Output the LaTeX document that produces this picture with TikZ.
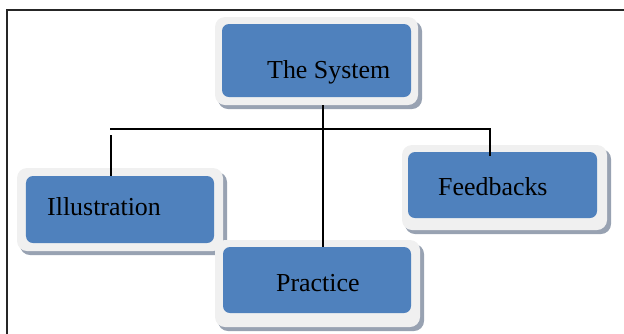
\documentclass[tikz,border=0pt]{standalone}
\usepackage{fontspec}
\setmainfont{Liberation Serif}
\definecolor{boxblue}{HTML}{4F81BD}
\definecolor{rimgray}{HTML}{F0F0F0}
\definecolor{shadowgray}{HTML}{98A2B2}
\tikzset{
  inner/.style={fill=boxblue, rounded corners=7bp, minimum width=189bp, minimum height=67bp, inner sep=0pt, draw=none},
  rim/.style={fill=rimgray, rounded corners=10bp},
  shade/.style={fill=shadowgray, rounded corners=10bp},
  lbl/.style={anchor=base west, inner sep=0pt, font=\fontsize{26}{30}\selectfont},
  conn/.style={line width=1.6bp, black},
}
\begin{document}
\begin{tikzpicture}[x=1bp, y=-1bp]
\useasboundingbox (0,0) rectangle (624,333);
\clip (0,0) rectangle (624,333);
% frame
\draw[line width=2bp, black!85] (7,345) -- (7,10) -- (640,10);
% The System
\fill[shade] (218,21) rectangle (422,109);
\fill[rim] (215,17) rectangle (418,105);
\node[inner, minimum width=189bp, minimum height=73bp] (sys) at (316.5,60.5) {};
\node[lbl] (syst) at (267,78) {The System};
% Illustration
\fill[shade] (20,172) rectangle (227,255);
\fill[rim] (17,168) rectangle (223,251);
\node[inner, minimum width=188bp, minimum height=67bp] (ill) at (120,209.5) {};
\node[lbl] (illt) at (47,215) {Illustration};
% Practice
\fill[shade] (218,244) rectangle (424,331);
\fill[rim] (215,240) rectangle (420,327);
\node[inner, minimum width=188bp, minimum height=66bp] (pra) at (317,280) {};
\node[lbl] (prat) at (276,291) {Practice};
% Feedbacks
\fill[shade] (405,149) rectangle (611,234);
\fill[rim] (402,145) rectangle (607,230);
\node[inner, minimum width=189bp, minimum height=66bp] (fee) at (502.5,185) {};
\node[lbl] (feet) at (438,195) {Feedbacks};
% connectors
\coordinate (trunktop) at (323,105);
\coordinate (hl) at (110,129);
\coordinate (hr) at (491,129);
\coordinate (lstart) at (111,135);
\coordinate (rstart) at (490,129);
\draw[conn] (trunktop) -- (pra.north -| trunktop);
\draw[conn] (hl) -- (hr);
\draw[conn] (lstart) -- (ill.north -| lstart);
\draw[conn] (rstart) -- ([yshift=-4bp]fee.north -| rstart);
\end{tikzpicture}
\end{document}
